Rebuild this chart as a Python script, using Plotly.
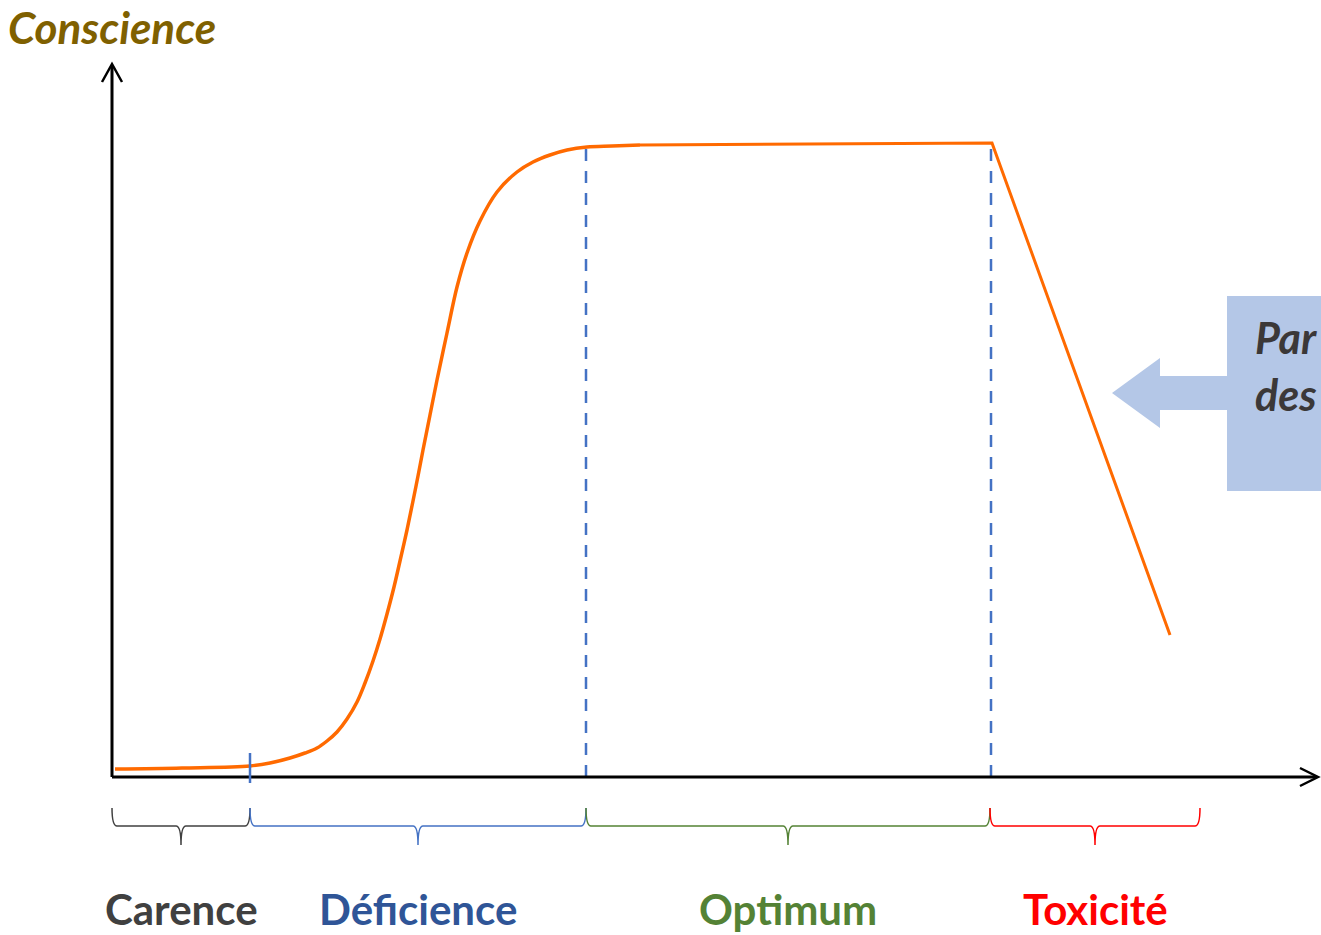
import plotly.graph_objects as go

# ---------------- data (dose units from origin, level above x-axis) ----------------
sig_dose = [3, 70, 138, 158, 178, 193, 205, 215, 225, 235, 245, 253, 261, 268, 275, 282, 288,
            295, 301, 306, 311, 318, 325, 335, 345, 355, 368, 385, 405, 421, 438, 455, 475, 500, 528]
sig_level = [8, 9, 11, 14, 19, 24, 29, 36, 45, 58, 75, 94, 116, 138, 163, 190, 216,
             247, 276, 301, 327, 362, 397, 444, 490, 524, 556, 585, 605, 615, 622, 627, 630, 631, 632]
tail_dose = [528, 700, 880, 1058]
tail_level = [632, 633, 634, 142]

zone_names = ["Carence", "Déficience", "Optimum", "Toxicité"]
zone_bounds = [0, 138, 474, 878, 1088]
zone_colors = ["#404040", "#4472C4", "#548235", "#FF0000"]
label_colors = ["#404040", "#2F5597", "#548235", "#FF0000"]

threshold_dose = [474, 879]
threshold_level = [630, 634]
tick_dose = 138

axis_title = "Conscience"
box_lines = ["Par", "des"]

ORANGE = "#FF6A00"
BLUE = "#4472C4"
BOXBLUE = "#B4C7E7"

fig = go.Figure()

fig.add_trace(go.Scatter(x=sig_dose, y=sig_level, mode="lines",
                         line=dict(color=ORANGE, width=3.5, shape="spline", smoothing=1.0),
                         hoverinfo="skip"))
fig.add_trace(go.Scatter(x=tail_dose, y=tail_level, mode="lines",
                         line=dict(color=ORANGE, width=3), hoverinfo="skip"))

shapes = []
# axes
shapes.append(dict(type="line", x0=0, y0=0, x1=0, y1=712, line=dict(color="black", width=3)))
shapes.append(dict(type="path", path="M -10,695 L 0,713 L 10,695", line=dict(color="black", width=2.5)))
shapes.append(dict(type="line", x0=0, y0=0, x1=1205, y1=0, line=dict(color="black", width=3)))
shapes.append(dict(type="path", path="M 1188,9 L 1206,0 L 1188,-9", line=dict(color="black", width=2.5)))

# thresholds
for d, lv in zip(threshold_dose, threshold_level):
    shapes.append(dict(type="line", x0=d, x1=d, y0=0, y1=lv,
                       line=dict(color=BLUE, width=2.5, dash="12px,10px"), layer="below"))
shapes.append(dict(type="line", x0=tick_dose, x1=tick_dose, y0=-6, y1=24,
                   line=dict(color=BLUE, width=2.5)))

# braces
top, bar, tip = -31, -49, -68
for i in range(4):
    a, b = zone_bounds[i], zone_bounds[i + 1]
    m = (a + b) / 2
    p = (f"M {a},{top} Q {a},{bar} {a+5},{bar} L {m-5},{bar} Q {m},{bar} {m},{tip} "
         f"Q {m},{bar} {m+5},{bar} L {b-5},{bar} Q {b},{bar} {b},{top}")
    shapes.append(dict(type="path", path=p, line=dict(color=zone_colors[i], width=1.5)))

# blue box and arrow
shapes.append(dict(type="rect", x0=1115, x1=1215, y0=286, y1=481,
                   fillcolor=BOXBLUE, line=dict(width=0), layer="below"))
shapes.append(dict(type="path",
                   path="M 1000,384 L 1048,419 L 1048,401 L 1116,401 L 1116,367 L 1048,367 L 1048,349 Z",
                   fillcolor=BOXBLUE, line=dict(width=0), layer="below"))

annotations = []
for i, name in enumerate(zone_names):
    m = (zone_bounds[i] + zone_bounds[i + 1]) / 2
    annotations.append(dict(x=m, y=-132, text=f"<b>{name}</b>", showarrow=False,
                            xanchor="center", yanchor="middle",
                            font=dict(family="Lato", size=42, color=label_colors[i])))
annotations.append(dict(x=-106, y=750, text=f"<b><i>{axis_title}</i></b>", showarrow=False,
                        xanchor="left", yanchor="middle",
                        font=dict(family="Lato", size=44, color="#7F6000")))
for j, t in enumerate(box_lines):
    annotations.append(dict(x=1141, y=440 - j * 57, text=f"<b><i>{t}</i></b>", showarrow=False,
                            xanchor="left", yanchor="middle",
                            font=dict(family="Lato", size=43, color="#3B3838")))

fig.update_layout(
    width=1321, height=935, margin=dict(l=0, r=0, t=0, b=0),
    paper_bgcolor="white", plot_bgcolor="white", showlegend=False,
    shapes=shapes, annotations=annotations,
    xaxis=dict(range=[-112, 1209], visible=False, fixedrange=True),
    yaxis=dict(range=[-158, 777], visible=False, fixedrange=True),
)

fig.write_html("out.html", config={"displayModeBar": False},
               post_script="document.body.style.margin='0';document.body.style.overflow='hidden';")
